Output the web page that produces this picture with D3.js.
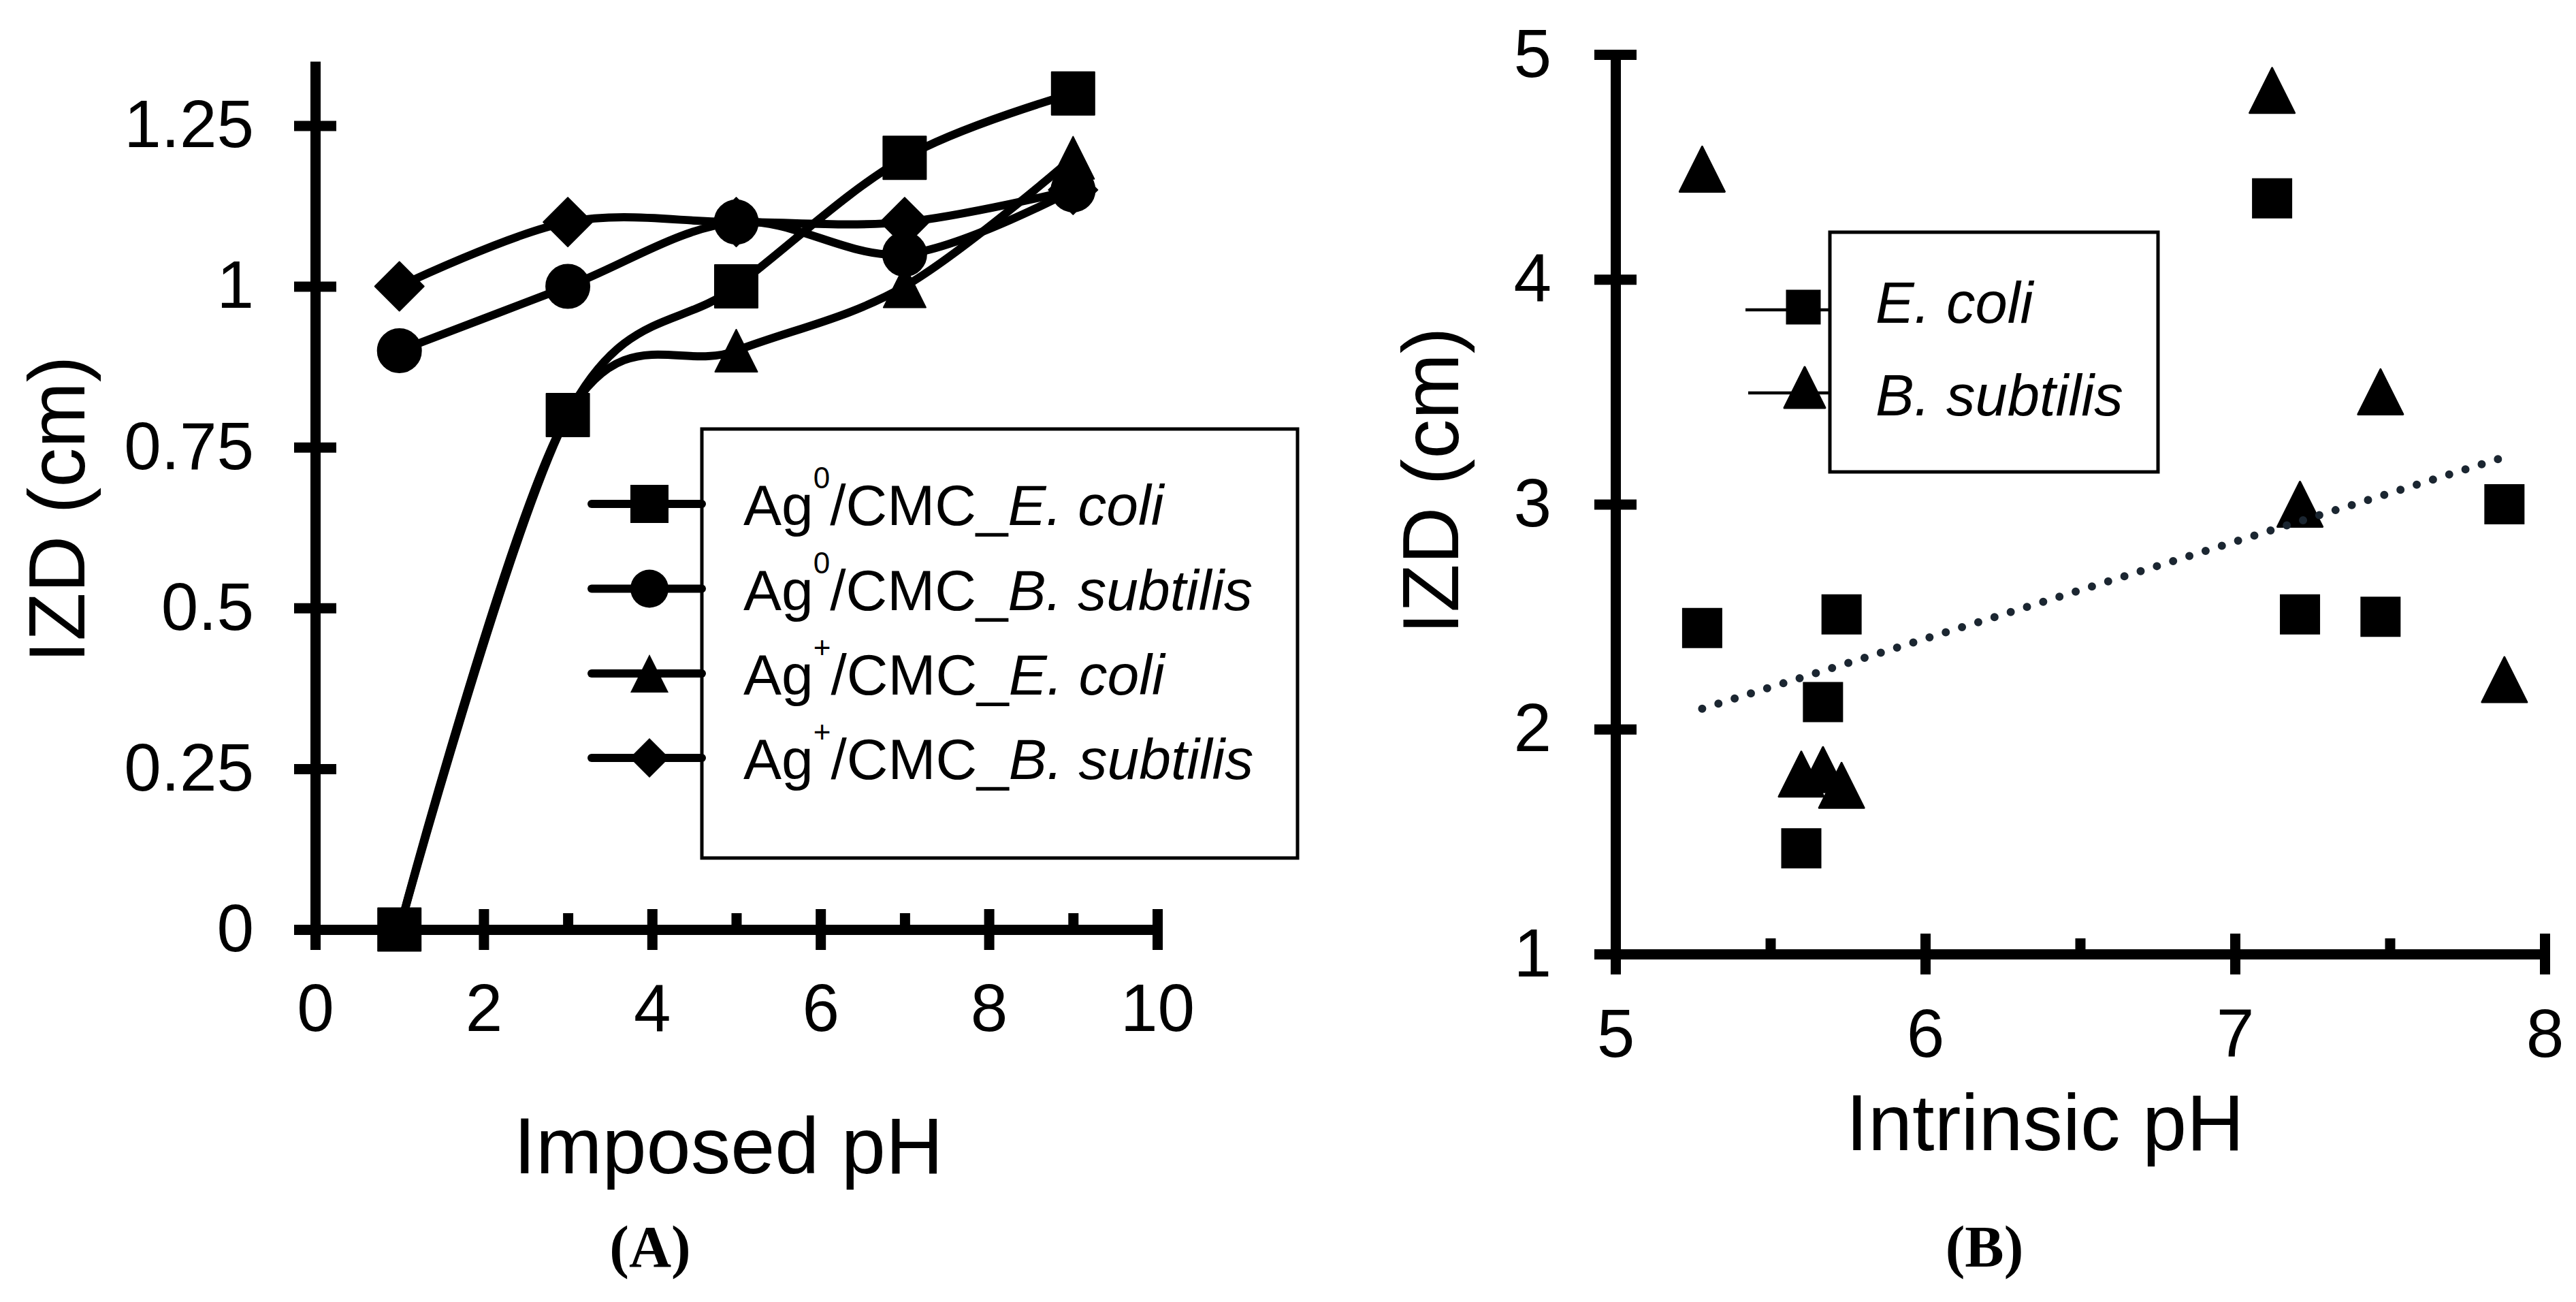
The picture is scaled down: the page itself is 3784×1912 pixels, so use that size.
<!DOCTYPE html>
<html><head><meta charset="utf-8">
<script src="https://cdn.jsdelivr.net/npm/d3@7"></script>
<style>body{margin:0;background:#fff}svg{display:block}</style>
</head><body>
<script>
// ---------- Data: panel A ----------
const phA = [1, 3, 5, 7, 9];
const ag0Ecoli = [0, 0.8, 1.0, 1.2, 1.3];
const ag0Bsub  = [0.9, 1.0, 1.1, 1.05, 1.15];
const agpEcoli = [0, 0.8, 0.9, 1.0, 1.2];
const agpBsub  = [1.0, 1.1, 1.1, 1.1, 1.15];
const seriesNamesA = ["Ag0/CMC_E. coli", "Ag0/CMC_B. subtilis", "Ag+/CMC_E. coli", "Ag+/CMC_B. subtilis"];
const legendSupA = ["0", "0", "+", "+"];
const legendSpeciesA = ["E. coli", "B. subtilis", "E. coli", "B. subtilis"];
const xTicksA = [0, 2, 4, 6, 8, 10];
const xMinorA = [1, 3, 5, 7, 9];
const yTicksA = [0, 0.25, 0.5, 0.75, 1, 1.25];

// ---------- Data: panel B ----------
const ecoliPH  = [5.28, 5.60, 5.67, 5.73, 7.12, 7.21, 7.47, 7.87];
const ecoliIZD = [2.45, 1.47, 2.12, 2.51, 4.36, 2.51, 2.50, 3.00];
const bsubPH   = [5.28, 5.60, 5.67, 5.73, 7.12, 7.21, 7.47, 7.87];
const bsubIZD  = [4.49, 1.80, 1.82, 1.75, 4.84, 3.00, 3.50, 2.22];
const seriesNamesB = ["E. coli", "B. subtilis"];
const xTicksB = [5, 6, 7, 8];
const xMinorB = [5.5, 6.5, 7.5];
const yTicksB = [1, 2, 3, 4, 5];

const W = 3784, H = 1912;
const FONT = "'Liberation Sans', Arial, sans-serif";
const svg = d3.select("body").append("svg").attr("width", W).attr("height", H);
svg.append("rect").attr("width", W).attr("height", H).attr("fill", "#fff");

function markerPath(shape, s) {
  const h = s / 2;
  if (shape === "square") return `M${-h},${-h}H${h}V${h}H${-h}Z`;
  if (shape === "triangle") return `M0,${-h}L${h},${h}L${-h},${h}Z`;
  if (shape === "diamond") return `M0,${-h}L${h},0L0,${h}L${-h},0Z`;
  return d3.path ? (() => { const p = d3.path(); p.arc(0, 0, h, 0, 2 * Math.PI); p.closePath(); return p.toString(); })() : "";
}

function styleAxis(g, fontSize) {
  g.select(".domain").attr("stroke", "#000").attr("stroke-width", 15);
  g.selectAll(".tick line").attr("stroke", "#000").attr("stroke-width", 15);
  g.selectAll(".tick text").attr("fill", "#000").attr("font-size", fontSize).attr("font-family", FONT);
}

// ================= Panel A =================
const xA = d3.scaleLinear().domain([0, 10]).range([463, 1700]);
const yA = d3.scaleLinear().domain([0, 1.35]).range([1365, 90]);

// minor ticks (inside)
svg.append("g").attr("transform", `translate(0,${yA(0)})`)
  .call(d3.axisTop(xA).tickValues(xMinorA).tickSize(24).tickFormat(""))
  .call(g => { g.select(".domain").remove(); g.selectAll(".tick line").attr("stroke", "#000").attr("stroke-width", 15); });

const gxA = svg.append("g").attr("transform", `translate(0,${yA(0)})`)
  .call(d3.axisBottom(xA).tickValues(xTicksA).tickSize(30).tickSizeOuter(0).tickPadding(49).tickFormat(d => String(d)));
styleAxis(gxA, 98);
gxA.selectAll(".tick line").attr("y1", -30);

const gyA = svg.append("g").attr("transform", `translate(${xA(0)},0)`)
  .call(d3.axisLeft(yA).tickValues(yTicksA).tickSize(31).tickSizeOuter(0).tickPadding(59).tickFormat(d => String(d)));
styleAxis(gyA, 98);
gyA.selectAll(".tick line").attr("x1", 31);

// series
const seriesA = [
  { vals: ag0Ecoli, shape: "square", size: 63 },
  { vals: ag0Bsub, shape: "circle", size: 64 },
  { vals: agpEcoli, shape: "triangle", size: 62 },
  { vals: agpBsub, shape: "diamond", size: 72 }
];
const lineA = d3.line().x(d => xA(d[0])).y(d => yA(d[1])).curve(d3.curveCatmullRom.alpha(0));
seriesA.forEach(s => {
  const pts = phA.map((p, i) => [p, s.vals[i]]);
  const g = svg.append("g");
  g.append("path").attr("d", lineA(pts)).attr("fill", "none").attr("stroke", "#000")
    .attr("stroke-width", 12).attr("stroke-linejoin", "round").attr("stroke-linecap", "round");
  g.selectAll("path.m").data(pts).join("path").attr("class", "m")
    .attr("transform", d => `translate(${xA(d[0])},${yA(d[1])})`)
    .attr("d", markerPath(s.shape, s.size)).attr("fill", "#000")
    .attr("stroke", "#000").attr("stroke-width", 2).attr("stroke-linejoin", "round");
});

// legend A
const legA = svg.append("g");
legA.append("rect").attr("x", 1031).attr("y", 630).attr("width", 875).attr("height", 630)
  .attr("fill", "#fff").attr("stroke", "#000").attr("stroke-width", 5);
const legAy = [740, 864.5, 989, 1113];
seriesA.forEach((s, i) => {
  const y = legAy[i];
  legA.append("line").attr("x1", 869).attr("x2", 1031).attr("y1", y).attr("y2", y)
    .attr("stroke", "#000").attr("stroke-width", 12).attr("stroke-linecap", "round");
  legA.append("path").attr("transform", `translate(954,${y})`)
    .attr("d", markerPath(s.shape, s.shape === "diamond" ? 58 : 56)).attr("fill", "#000");
  const t = legA.append("text").attr("x", 1092).attr("y", y + 31)
    .attr("font-family", FONT).attr("font-size", 84).attr("fill", "#000");
  t.append("tspan").text("Ag");
  t.append("tspan").attr("font-size", 44).attr("dy", -54).text(legendSupA[i]);
  t.append("tspan").attr("dy", 54).text("/CMC_");
  t.append("tspan").attr("font-style", "italic").text(legendSpeciesA[i]);
  t.append("title").text(seriesNamesA[i]);
});

// titles A
svg.append("text").attr("transform", "translate(124,748) rotate(-90)").attr("text-anchor", "middle")
  .attr("font-family", FONT).attr("font-size", 116).attr("fill", "#000").text("IZD (cm)");
svg.append("text").attr("x", 1070).attr("y", 1723).attr("text-anchor", "middle")
  .attr("font-family", FONT).attr("font-size", 117).attr("fill", "#000").text("Imposed pH");
svg.append("text").attr("x", 955).attr("y", 1860).attr("text-anchor", "middle")
  .attr("font-family", "'Liberation Serif', 'Times New Roman', serif").attr("font-weight", "bold")
  .attr("font-size", 86).attr("fill", "#000").text("(A)");

// ================= Panel B =================
const xB = d3.scaleLinear().domain([5, 8]).range([2373, 3738]);
const yB = d3.scaleLinear().domain([1, 5]).range([1401, 80]);

svg.append("g").attr("transform", `translate(0,${yB(1)})`)
  .call(d3.axisTop(xB).tickValues(xMinorB).tickSize(23).tickFormat(""))
  .call(g => { g.select(".domain").remove(); g.selectAll(".tick line").attr("stroke", "#000").attr("stroke-width", 15); });

const gxB = svg.append("g").attr("transform", `translate(0,${yB(1)})`)
  .call(d3.axisBottom(xB).tickValues(xTicksB).tickSize(30).tickSizeOuter(0).tickPadding(50).tickFormat(d => String(d)));
styleAxis(gxB, 100);
gxB.selectAll(".tick line").attr("y1", -30);

const gyB = svg.append("g").attr("transform", `translate(${xB(5)},0)`)
  .call(d3.axisLeft(yB).tickValues(yTicksB).tickSize(31).tickSizeOuter(0).tickPadding(63).tickFormat(d => String(d)));
styleAxis(gyB, 100);
gyB.selectAll(".tick line").attr("x1", 31);

const ptsE = ecoliPH.map((p, i) => [p, ecoliIZD[i]]);
const ptsB = bsubPH.map((p, i) => [p, bsubIZD[i]]);
svg.append("g").selectAll("path").data(ptsE).join("path")
  .attr("transform", d => `translate(${xB(d[0])},${yB(d[1])})`)
  .attr("d", markerPath("square", 59)).attr("fill", "#000");
svg.append("g").selectAll("path").data(ptsB).join("path")
  .attr("transform", d => `translate(${xB(d[0])},${yB(d[1])})`)
  .attr("d", markerPath("triangle", 66)).attr("fill", "#000")
  .attr("stroke", "#000").attr("stroke-width", 3).attr("stroke-linejoin", "round");

// linear trendline (least squares) for E. coli
const mx = d3.mean(ecoliPH), my = d3.mean(ecoliIZD);
const slope = d3.sum(ecoliPH.map((x, i) => (x - mx) * (ecoliIZD[i] - my))) / d3.sum(ecoliPH.map(x => (x - mx) ** 2));
const icpt = my - slope * mx;
const [tx0, tx1] = d3.extent(ecoliPH);
svg.append("line").attr("x1", xB(tx0)).attr("y1", yB(icpt + slope * tx0))
  .attr("x2", xB(tx1)).attr("y2", yB(icpt + slope * tx1))
  .attr("stroke", "#1b2631").attr("stroke-width", 12).attr("stroke-linecap", "round")
  .attr("stroke-dasharray", "0 25");

// legend B
const legB = svg.append("g");
legB.append("rect").attr("x", 2688).attr("y", 341).attr("width", 482).attr("height", 352)
  .attr("fill", "#fff").attr("stroke", "#000").attr("stroke-width", 5);
legB.append("line").attr("x1", 2564).attr("x2", 2688).attr("y1", 455).attr("y2", 455).attr("stroke", "#000").attr("stroke-width", 4.5);
legB.append("path").attr("transform", "translate(2649,451)").attr("d", markerPath("square", 51)).attr("fill", "#000");
legB.append("line").attr("x1", 2568).attr("x2", 2688).attr("y1", 577).attr("y2", 577).attr("stroke", "#000").attr("stroke-width", 4.5);
legB.append("path").attr("transform", "translate(2651,569)").attr("d", markerPath("triangle", 60)).attr("fill", "#000")
  .attr("stroke", "#000").attr("stroke-width", 3).attr("stroke-linejoin", "round");
legB.append("text").attr("x", 2755).attr("y", 474).attr("font-family", FONT).attr("font-size", 85)
  .attr("font-style", "italic").attr("fill", "#000").text(seriesNamesB[0]);
legB.append("text").attr("x", 2755).attr("y", 610).attr("font-family", FONT).attr("font-size", 85)
  .attr("font-style", "italic").attr("fill", "#000").text(seriesNamesB[1]);

// titles B
svg.append("text").attr("transform", "translate(2142,706) rotate(-90)").attr("text-anchor", "middle")
  .attr("font-family", FONT).attr("font-size", 116).attr("fill", "#000").text("IZD (cm)");
svg.append("text").attr("x", 3004).attr("y", 1689).attr("text-anchor", "middle")
  .attr("font-family", FONT).attr("font-size", 117).attr("fill", "#000").text("Intrinsic pH");
svg.append("text").attr("x", 2915).attr("y", 1860).attr("text-anchor", "middle")
  .attr("font-family", "'Liberation Serif', 'Times New Roman', serif").attr("font-weight", "bold")
  .attr("font-size", 86).attr("fill", "#000").text("(B)");
</script>
</body></html>
